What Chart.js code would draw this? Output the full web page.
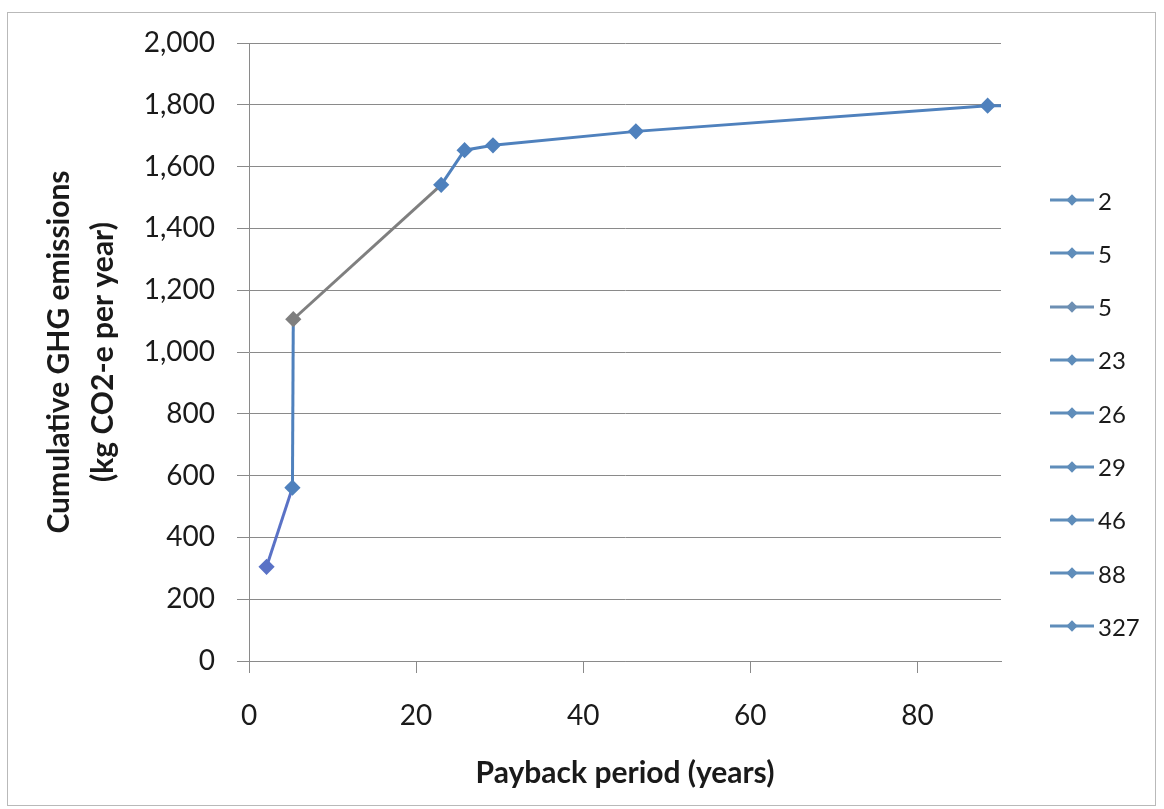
<!DOCTYPE html>
<html>
<head>
<meta charset="utf-8">
<script src="https://cdn.jsdelivr.net/npm/chart.js@4"></script>
<style>
  html, body { margin: 0; padding: 0; background: #fff; }
  #wrap { position: relative; width: 1164px; height: 809px; }
  #frame { position: absolute; left: 7px; top: 12px; width: 1149px; height: 794px;
           border: 1px solid #b9b9b9; box-sizing: border-box; pointer-events: none; }
  #legend { position: absolute; left: 1050px; top: 0; font-family: Lato, sans-serif;
            font-size: 24px; color: #1a1a1a; }
  #legend .item { position: absolute; left: 0; height: 30px; display: flex;
                  align-items: center; white-space: nowrap; }
  #legend svg { margin-right: 4px; }
</style>
</head>
<body>
<div id="wrap">
  <canvas id="ghgChart" width="1164" height="809"></canvas>
  <div id="frame"></div>
  <div id="legend"></div>
</div>
<script>
// payback period (years) vs cumulative emissions
const payback = [2.1, 5.2, 5.3, 23.0, 25.8, 29.2, 46.3, 88.4, 327];
const cumulative = [305, 561, 1106, 1541, 1653, 1669, 1714, 1797, 1840];
const pointColors = ["#5a72c6", "#4f81bd", "#7f7f7f", "#4f81bd", "#4f81bd",
                     "#4f81bd", "#4f81bd", "#4f81bd", "#4f81bd"];
const yTicks = [0, 200, 400, 600, 800, 1000, 1200, 1400, 1600, 1800, 2000];
const xTicks = [0, 20, 40, 60, 80];

const gridGrey = "#8a8a8a";
const points = payback.map((x, i) => ({ x: x, y: cumulative[i] }));

const ctx = document.getElementById("ghgChart");
const chart = new Chart(ctx, {
    type: "scatter",
    data: {
        datasets: [{
            data: points,
            showLine: true,
            borderColor: "#4f81bd",
            borderWidth: 3,
            pointStyle: "rectRot",
            pointRadius: 6,
            pointHoverRadius: 6,
            pointBackgroundColor: pointColors,
            pointBorderColor: pointColors,
            segment: {
                borderColor: c => pointColors[c.p0DataIndex]
            }
        }]
    },
    options: {
        responsive: false,
        animation: false,
        layout: { padding: { top: 43, right: 163, bottom: 0, left: 0 } },
        plugins: {
            legend: { display: false },
            tooltip: { enabled: false }
        },
        scales: {
            x: {
                type: "linear",
                min: 0,
                max: 90,
                afterFit: s => { s.height = 148; },
                afterBuildTicks: s => { s.ticks = xTicks.map(v => ({ value: v })); },
                grid: { drawOnChartArea: false, color: gridGrey, tickLength: 12 },
                border: { color: gridGrey },
                ticks: {
                    padding: 26,
                    color: "#1a1a1a",
                    font: { family: "Lato", size: 28 },
                    maxRotation: 0
                },
                title: {
                    display: true,
                    text: "Payback period (years)",
                    color: "#1a1a1a",
                    font: { family: "Lato", size: 30, weight: "bold" },
                    padding: { top: 0, bottom: 18 }
                }
            },
            y: {
                min: 0,
                max: 2000,
                afterFit: s => { s.width = 249; },
                afterBuildTicks: s => { s.ticks = yTicks.map(v => ({ value: v })); },
                grid: { color: gridGrey, tickLength: 12 },
                border: { color: gridGrey },
                ticks: {
                    padding: 22,
                    color: "#1a1a1a",
                    font: { family: "Lato", size: 28 },
                    callback: v => v.toLocaleString("en-US")
                },
                title: {
                    display: true,
                    text: ["Cumulative GHG emissions", "(kg CO2-e per year)"],
                    color: "#1a1a1a",
                    font: { family: "Lato", size: 30, weight: "bold", lineHeight: 1.45 },
                    padding: { top: 38, bottom: 0 }
                }
            }
        }
    }
});

// one legend entry per point, labelled with the rounded payback period
const legend = document.getElementById("legend");
payback.forEach((x, i) => {
    const item = document.createElement("div");
    item.className = "item";
    item.style.top = (185 + i * 53.3) + "px";
    const c = pointColors[i] === "#7f7f7f" ? "#6d8fb3" : "#5f8dba";
    item.innerHTML =
        '<svg width="44" height="14" viewBox="0 0 44 14">' +
        '<line x1="0" y1="7" x2="44" y2="7" stroke="' + c + '" stroke-width="3"/>' +
        '<rect x="18" y="3" width="8" height="8" fill="' + c + '" transform="rotate(45 22 7)"/>' +
        '</svg><span>' + Math.round(x) + '</span>';
    legend.appendChild(item);
});
</script>
</body>
</html>
